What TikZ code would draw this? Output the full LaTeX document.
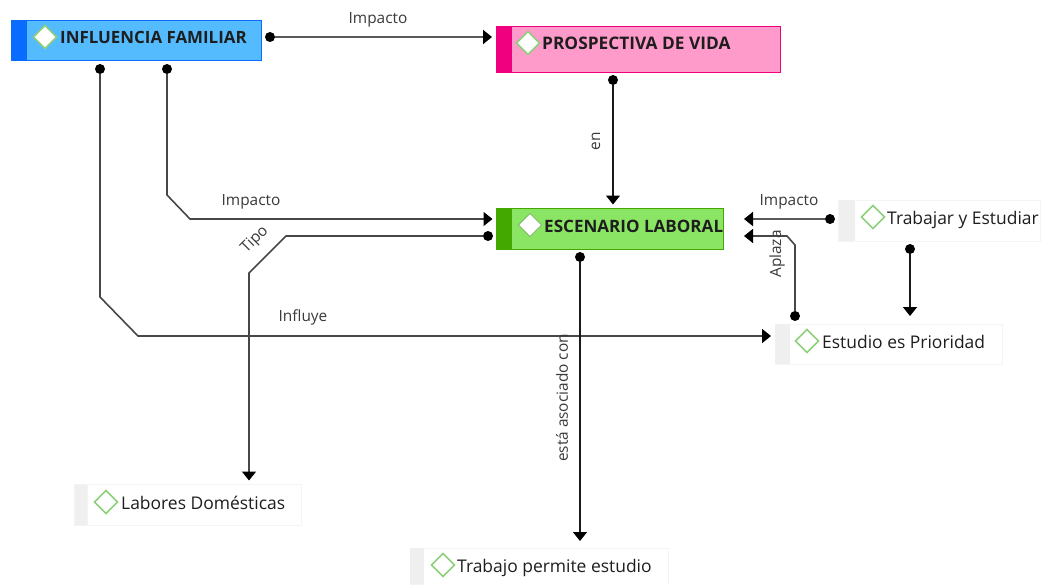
\documentclass[tikz,border=0pt]{standalone}
\usepackage{fontspec}
\setmainfont{Open Sans}
\usetikzlibrary{arrows.meta,calc}
\definecolor{bluef}{HTML}{55BBFF}\definecolor{blued}{HTML}{0A6CFF}
\definecolor{pinkf}{HTML}{FF9BCB}\definecolor{pinkd}{HTML}{F0007F}
\definecolor{greenf}{HTML}{8BE565}\definecolor{greend}{HTML}{43A800}
\definecolor{diam}{HTML}{8ED07A}\definecolor{barg}{HTML}{EFEFEF}\definecolor{edgeg}{HTML}{F4F4F4}
\definecolor{txt}{HTML}{1E1E1E}\definecolor{lab}{HTML}{3A3A3A}
\tikzset{
 x=1pt,y=-1pt,
 box/.style={draw=#1,line width=1pt,anchor=north west,inner sep=0pt,outer sep=0pt},
 dia/.style={draw=diam,fill=white,line width=1.5pt},
 title/.style={anchor=west,inner sep=0pt,font=\fontsize{#1}{20}\selectfont\bfseries,text=txt},
 item/.style={anchor=west,inner sep=0pt,font=\fontsize{17.45}{20}\selectfont,text=txt},
 lbl/.style={inner sep=0pt,font=\fontsize{15.4}{18}\selectfont,text=lab},
 dotn/.style={circle,fill=black,inner sep=0pt,minimum size=10pt},
 tipb/.style={-{Triangle[length=9pt,width=14pt,color=black]}},
 vconn/.style={draw=black!90,line width=1.4pt,tipb},
 hconn/.style={draw=black!65,line width=2pt,tipb},
 dconn/.style={draw=black!72,line width=1.6pt,tipb}
}
\newcommand{\diamondicon}[3]{\path[#3] (#1-11.5,#2) -- (#1,#2-11.5) -- (#1+11.5,#2) -- (#1,#2+11.5) -- cycle;}
\newcommand{\boxshape}[8]{% name x y w h fill edge barw
 \node[box=#7,fill=#6,minimum width=#4pt,minimum height=#5pt] (#1) at (#2,#3) {};
 \fill[#7] (#2,#3) rectangle (#2+#8,#3+#5);}
\begin{document}
\begin{tikzpicture}
\useasboundingbox (0,0) rectangle (1041,584);
\fill[white] (0,0) rectangle (1041,584);
% boxes
\boxshape{fam}{11.5}{20}{250}{40.5}{bluef}{blued}{15.5}
\boxshape{pro}{496}{26.5}{284}{45.5}{pinkf}{pinkd}{15.5}
\boxshape{esc}{496.5}{208.5}{226.5}{40.5}{greenf}{greend}{15}
\boxshape{tye}{838.5}{200}{202}{41}{white}{edgeg}{16}
\boxshape{est}{775}{324}{227}{40}{white}{edgeg}{15}
\boxshape{lab}{74.5}{484.5}{227}{40.5}{white}{edgeg}{13}
\boxshape{tra}{410}{548}{258}{37}{white}{edgeg}{14}
% bars of plain boxes
\fill[barg] (838.5,200) rectangle (855,241);
\fill[barg] (775,324) rectangle (790,364);
\fill[barg] (74.5,484.5) rectangle (87,525);
\fill[barg] (410,548) rectangle (424,584);
% icons
\diamondicon{45}{37}{dia}
\diamondicon{528}{43}{dia}
\diamondicon{530}{225}{draw=greenf!70!black,fill=white,line width=.6pt}
\diamondicon{873}{217}{dia}
\diamondicon{807}{341}{dia}
\diamondicon{106}{502}{dia}
\diamondicon{443}{565}{dia}
% texts
\node[title=16.9] (tfam) at (60,37.5) {INFLUENCIA FAMILIAR};
\node[title=17.3] (tpro) at (542,43) {PROSPECTIVA DE VIDA};
\node[title=17.05] (tesc) at (544,226) {ESCENARIO LABORAL};
\node[item] (ttye) at (887,220) {Trabajar y Estudiar};
\node[item] (test) at (822,342) {Estudio es Prioridad};
\node[item] (tlab) at (121,503) {Labores Domésticas};
\node[item] (ttra) at (457,567.5) {Trabajo permite estudio};
% connector end dots
\node[dotn] (d1) at (270,37) {};
\node[dotn] (d2) at (613,80) {};
\node[dotn] (d3) at (167,69) {};
\node[dotn] (d4) at (100,69) {};
\node[dotn] (d5) at (488,236) {};
\node[dotn] (d6) at (580,257) {};
\node[dotn] (d7) at (830,219) {};
\node[dotn] (d8) at (910,249) {};
\node[dotn] (d9) at (795,316) {};
% bends
\coordinate (b3a) at (167,195); \coordinate (b3b) at (190,219);
\coordinate (b4a) at (100,297); \coordinate (b4b) at (138,336);
\coordinate (b5a) at (286,236); \coordinate (b5b) at (249,273);
\coordinate (b9a) at (795,245); \coordinate (b9b) at (787,236);
% connectors
\draw[hconn] (d1) -- ($(pro.west |- d1)+(-4,0)$);
\draw[vconn] (d2) -- ($(esc.north -| d2)+(0,-4)$);
\draw[dconn] (d3) -- (b3a) -- (b3b) -- ($(esc.west |- b3b)+(-4,0)$);
\draw[dconn] (d4) -- (b4a) -- (b4b) -- ($(est.west |- b4b)+(-4,0)$);
\draw[dconn] (d5) -- (b5a) -- (b5b) -- ($(lab.north -| b5b)+(0,-4)$);
\draw[vconn] (d6) -- ($(tra.north -| d6)+(0,-7)$);
\draw[hconn] (d7) -- ($(esc.east |- d7)+(21,0)$);
\draw[vconn] (d8) -- ($(est.north -| d8)+(0,-8)$);
\draw[dconn] (d9) -- (b9a) -- (b9b) -- ($(esc.east |- b9b)+(21,0)$);
% labels
\node[lbl] (l1) at (378,20) {Impacto};
\node[lbl,rotate=90] (l2) at (596,141) {en};
\node[lbl] (l3) at (251,202) {Impacto};
\node[lbl,rotate=45] (l4) at (255,240) {Tipo};
\node[lbl] (l5) at (303,317) {Influye};
\node[lbl,rotate=90] (l6) at (562,398) {está asociado con};
\node[lbl] (l7) at (789,202) {Impacto};
\node[lbl,rotate=90] (l8) at (777,254) {Aplaza};
\end{tikzpicture}
\end{document}
